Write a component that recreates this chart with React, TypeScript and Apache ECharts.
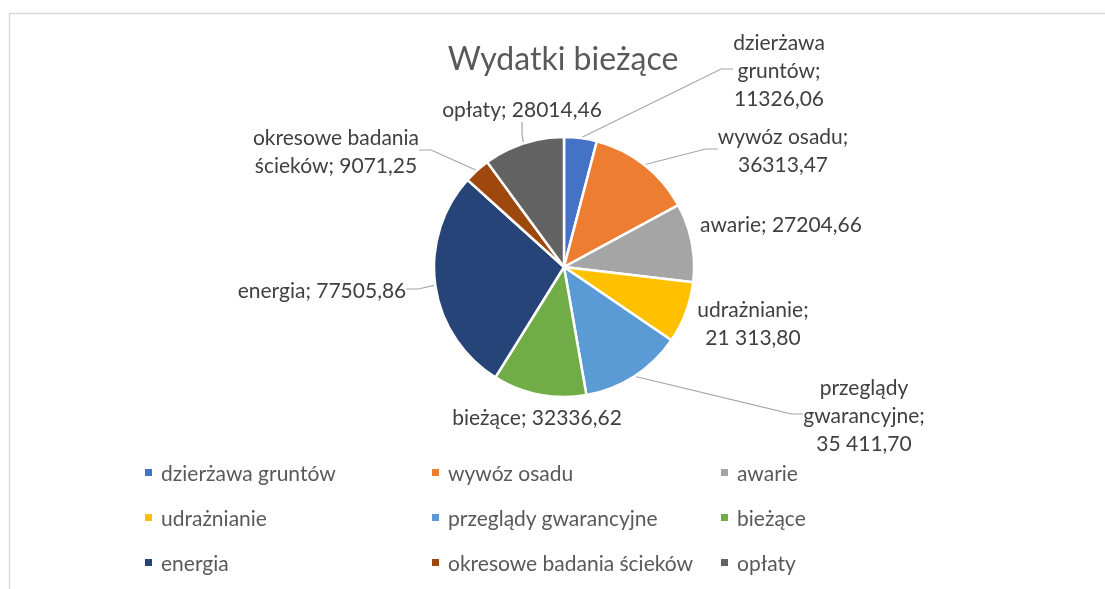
import React, { useEffect, useRef } from "react";
import * as echarts from "echarts";

const title = "Wydatki bieżące";
const categories = [
  "dzierżawa gruntów",
  "wywóz osadu",
  "awarie",
  "udrażnianie",
  "przeglądy gwarancyjne",
  "bieżące",
  "energia",
  "okresowe badania ścieków",
  "opłaty",
];
const values = [11326.06, 36313.47, 27204.66, 21313.8, 35411.7, 32336.62, 77505.86, 9071.25, 28014.46];
// label wrapping of the name part, and whether the value is shown with thousands grouping
const labelNames = [
  "dzierżawa\ngruntów;\n",
  "wywóz osadu;\n",
  "awarie; ",
  "udrażnianie;\n",
  "przeglądy\ngwarancyjne;\n",
  "bieżące; ",
  "energia; ",
  "okresowe badania\nścieków; ",
  "opłaty; ",
];
const groupThousands = [false, false, false, true, true, false, false, false, false];
const showLeader = [true, true, false, false, true, false, true, true, true];

const colors = ["#4472C4", "#ED7D31", "#A5A5A5", "#FFC000", "#5B9BD5", "#70AD47", "#264478", "#9E480E", "#636363"];

// layout: label block centres (px)
const labelPos: [number, number][] = [
  [779, 69],
  [783, 149],
  [781, 223],
  [753, 322],
  [864, 414],
  [537, 416],
  [322, 289],
  [336, 150],
  [522, 108],
];
const legendColumns = [
  { left: 143, items: [0, 3, 6] },
  { left: 430, items: [1, 4, 7] },
  { left: 719, items: [2, 5, 8] },
];

const FONT = "Lato, 'Noto Sans', sans-serif";

function fmt(v: number, group: boolean) {
  const [i, d] = v.toFixed(2).split(".");
  const ip = group ? i.replace(/\B(?=(\d{3})+(?!\d))/g, " ") : i;
  return ip + "," + d;
}

export default function App() {
  const ref = useRef<HTMLDivElement>(null);
  useEffect(() => {
    if (!ref.current) return;
    const chart = echarts.init(ref.current, undefined, { renderer: "svg" });
    chart.setOption({
      animation: false,
      color: colors,
      title: {
        text: title,
        left: 563,
        top: 41,
        textAlign: "center",
        padding: 0,
        textStyle: { fontFamily: FONT, fontSize: 32, fontWeight: "normal", color: "#595959" },
      },
      legend: legendColumns.map((col) => ({
        orient: "vertical",
        left: col.left,
        top: 462,
        itemWidth: 9,
        itemHeight: 9,
        itemGap: 24,
        icon: "rect",
        selectedMode: false,
        padding: 0,
        textStyle: {
          fontFamily: FONT,
          fontSize: 21,
          lineHeight: 20,
          color: "#595959",
          padding: [0, 0, 0, 3],
        },
        data: col.items.map((i) => categories[i]),
      })),
      graphic: [
        {
          type: "rect",
          shape: { x: 9.5, y: 13.5, width: 1300, height: 800 },
          style: { fill: "none", stroke: "#D9D9D9", lineWidth: 1.5 },
          silent: true,
        },
      ],
      series: [
        {
          type: "pie",
          center: [564, 267],
          radius: 130,
          startAngle: 90,
          clockwise: true,
          itemStyle: { borderColor: "#FFFFFF", borderWidth: 2.5 },
          label: {
            show: true,
            position: "outside",
            fontFamily: FONT,
            fontSize: 21,
            lineHeight: 28,
            color: "#404040",
            align: "center",
          },
          labelLine: {
            show: true,
            length: 10,
            length2: 12,
            lineStyle: { color: "#A6A6A6", width: 1.2 },
          },
          labelLayout: (params: any) => {
            const p = labelPos[params.dataIndex];
            return { x: p[0], y: p[1], align: "center", verticalAlign: "middle" };
          },
          data: categories.map((name, i) => ({
            name,
            value: values[i],
            label: { formatter: labelNames[i] + fmt(values[i], groupThousands[i]) },
            labelLine: { show: showLeader[i] },
          })),
        },
      ],
    });
    return () => chart.dispose();
  }, []);
  return <div ref={ref} style={{ position: "fixed", left: 0, top: 0, width: 1105, height: 589 }} />;
}
